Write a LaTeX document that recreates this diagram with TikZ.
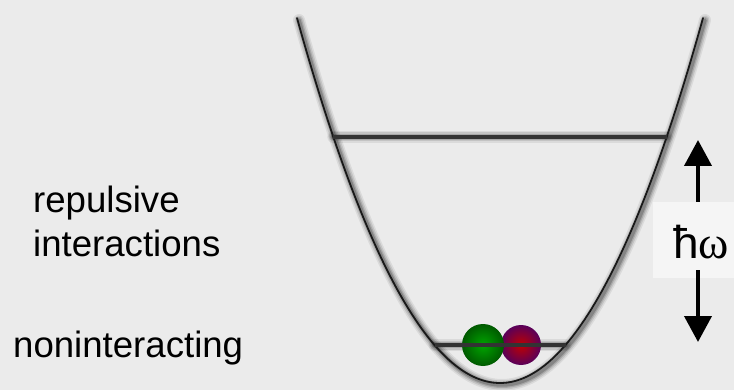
\documentclass[tikz,border=0pt]{standalone}
\usepackage{fontspec}
\setmainfont{Liberation Sans}
\newfontfamily\greekfont{Liberation Serif}
\usetikzlibrary{arrows.meta}

\begin{document}
\begin{tikzpicture}[x=1pt, y=-1pt,
    wall/.style={line width=1.8pt, draw=black!90, line cap=round},
    level/.style={line width=3.2pt, draw=black!80},
    haze/.style={line cap=round, draw=black, opacity=#1, shift={(2,2)}},
    label/.style={font=\fontsize{36.6}{44}\selectfont, anchor=base west, inner sep=0pt},
    gap/.style={line width=4pt, -{Triangle[width=27pt,length=26pt]}}]

  \useasboundingbox (0,0) rectangle (734,390);
  \fill[black!8] (0,0) rectangle (734,390);

  % ends of the two levels on the well
  \coordinate (e1l) at (333.3,137);
  \coordinate (e1r) at (666.7,137);
  \coordinate (e0l) at (434.5,345);
  \coordinate (e0r) at (565.5,345);

  % soft shadow of the well and the levels
  \foreach \w/\o in {12/0.07, 9/0.1, 6/0.14, 3.5/0.2}
  {
    \draw[haze=\o, line width=\w pt] plot[domain=-203:203, samples=90, smooth] ({\x+500}, {383-365*(\x/203)^2});
    \draw[haze=\o, line width=\w pt] (e1l) -- (e1r);
    \draw[haze=\o, line width=\w pt] (e0l) -- (e0r);
  }

  % harmonic well
  \draw[wall] plot[domain=-203:203, samples=90, smooth] ({\x+500}, {383-365*(\x/203)^2});

  % upper level
  \draw[level] (e1l) -- (e1r);

  % two atoms on the lower level
  \shade[inner color=red!75!black, outer color=violet!70!black] (521,345) circle (20);
  \shade[inner color=green!65!black, outer color=green!35!black] (483,345) circle (21);

  % lower level
  \draw[level] (e0l) -- (e0r);

  % texts on the left
  \node[label] (rep) at (33,213) {repulsive};
  \node[label] (inter) at (33,257) {interactions};
  \node[label] (nonint) at (13,357) {noninteracting};

  % level spacing
  \node[fill=black!4, minimum width=90pt, minimum height=76pt, anchor=north west, inner sep=0pt] (hwbox) at (653,202) {};
  \node[anchor=base west, inner sep=0pt] (hw) at (673,259) {\fontsize{46}{46}\selectfont ħ\greekfont ω};

  \coordinate (up) at (698,140);
  \coordinate (dn) at (698,342);
  \draw[gap] (hwbox.north -| up) -- (up);
  \draw[gap] ([yshift=8pt]hwbox.south -| dn) -- (dn);
\end{tikzpicture}
\end{document}
